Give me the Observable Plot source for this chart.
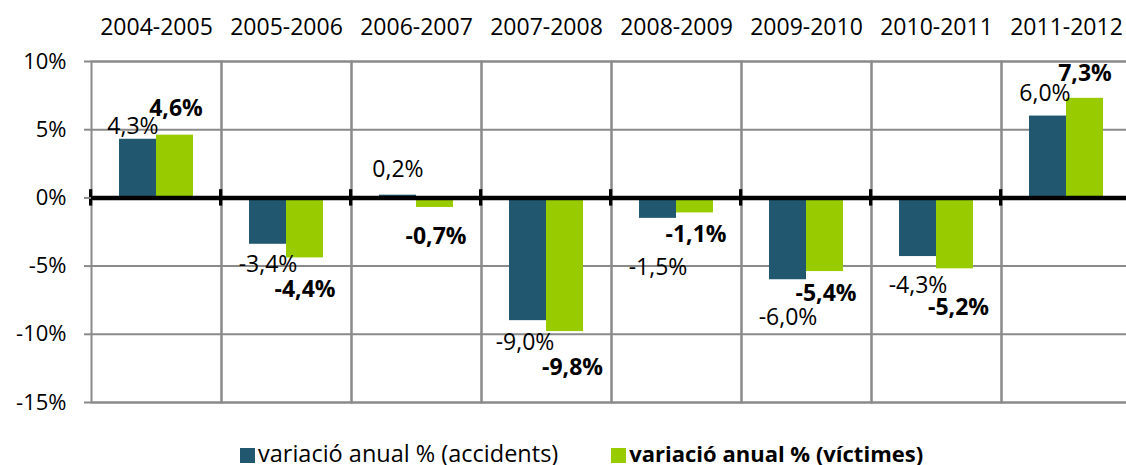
<!DOCTYPE html>
<html>
<head>
<meta charset="utf-8">
<script src="https://cdn.jsdelivr.net/npm/d3@7"></script>
<script src="https://cdn.jsdelivr.net/npm/@observablehq/plot@0.6"></script>
<style>
  html, body { margin: 0; padding: 0; background: #fff; overflow: hidden; }
  #wrap { width: 1126px; height: 465px; overflow: hidden; position: relative; font-family: 'Open Sans', sans-serif; }
  #chart svg { max-width: none !important; }
  #legend { position: absolute; left: 240px; top: 441px; display: flex; align-items: center; color: #000; white-space: nowrap; line-height: 25px; }
  .item { display: flex; align-items: center; }
  .sw { width: 15px; height: 15px; margin-right: 3px; display: inline-block; position: relative; top: 2px; }
</style>
</head>
<body>
<div id="wrap"><div id="chart"></div><div id="legend"></div></div>
<script>
// ---- data ----
const periods = ["2004-2005", "2005-2006", "2006-2007", "2007-2008", "2008-2009", "2009-2010", "2010-2011", "2011-2012"];
const seriesNames = ["variació anual % (accidents)", "variació anual % (víctimes)"];
const accidents = [4.3, -3.4, 0.2, -9.0, -1.5, -6.0, -4.3, 6.0];
const victims = [4.6, -4.4, -0.7, -9.8, -1.1, -5.4, -5.2, 7.3];
const yTicks = [-15, -10, -5, 0, 5, 10];

// ---- label nudges (styling, px) ----
const accDx = [-5, 0, 0, -3, 0, 0, 0, -3];
const accDy = [-12.5, 20, -26, 22, 49.5, 38, 29, -22];
const vicDx = [1, 0, 1, 7.5, 1, 1, 3.5, 0];
const vicDy = [-27, 32, 29, 36.5, 21.5, 22.5, 39, -25];

// ---- styling ----
const colors = ["#215870", "#99CC00"];
const gridColor = "#8a8a8a";
const W = 1134, H = 430, ML = 88, MR = 0, MT = 61, MB = 28;
const facetW = (W - ML - MR) / periods.length;

const fmt = v => v.toFixed(1).replace(".", ",") + "%";

const rows = periods.flatMap((p, i) => [
  {period: p, series: seriesNames[0], value: accidents[i], dx: accDx[i], dy: accDy[i], bold: false},
  {period: p, series: seriesNames[1], value: victims[i], dx: vicDx[i], dy: vicDy[i], bold: true}
]);

const chart = Plot.plot({
  width: W, height: H,
  marginTop: MT, marginLeft: ML, marginRight: MR, marginBottom: MB,
  style: {fontFamily: "'Open Sans', sans-serif", fontSize: "22px", color: "black", background: "white", maxWidth: "none"},
  fx: {domain: periods, padding: 0, label: null},
  x: {domain: seriesNames, paddingInner: 0, paddingOuter: 0.75, axis: null},
  y: {domain: [-15, 10], label: null},
  color: {domain: seriesNames, range: colors},
  marks: [
    Plot.ruleY(yTicks, {stroke: gridColor, strokeWidth: 2}),
    Plot.frame({stroke: gridColor, strokeWidth: 2}),
    Plot.barY(rows, {fx: "period", x: "series", y: "value", fill: "series"}),
    Plot.ruleY([0], {stroke: "black", strokeWidth: 4.5}),
    Plot.rect([0], {y1: -0.6, y2: 0.6, fill: "black", insetRight: facetW - 4, dx: -2}),
    Plot.axisY(yTicks, {tickSize: 7, tickPadding: 18, stroke: gridColor, strokeWidth: 2, fill: "black", tickFormat: d => d + "%", fontSize: 22, label: null}),
    Plot.axisFx({anchor: "top", tickSize: 0, tickPadding: 27, fontSize: 23, fill: "black", label: null}),
    ...rows.map(r => Plot.text([r], {
      fx: "period", x: "series", y: "value",
      text: d => fmt(d.value),
      dx: r.dx, dy: r.dy,
      fontSize: 23, fontWeight: r.bold ? "bold" : "normal", fill: "black"
    }))
  ]
});
document.getElementById("chart").appendChild(chart);

const legend = document.getElementById("legend");
seriesNames.forEach((name, i) => {
  const item = document.createElement("div");
  item.className = "item";
  if (i === 0) item.style.marginRight = "53px";
  const sw = document.createElement("span");
  sw.className = "sw";
  sw.style.background = colors[i];
  const t = document.createElement("span");
  t.textContent = name;
  if (i === 1) { t.style.fontWeight = "bold"; t.style.fontSize = "22px"; }
  else { t.style.fontSize = "23.5px"; }
  item.appendChild(sw);
  item.appendChild(t);
  legend.appendChild(item);
});
</script>
</body>
</html>
